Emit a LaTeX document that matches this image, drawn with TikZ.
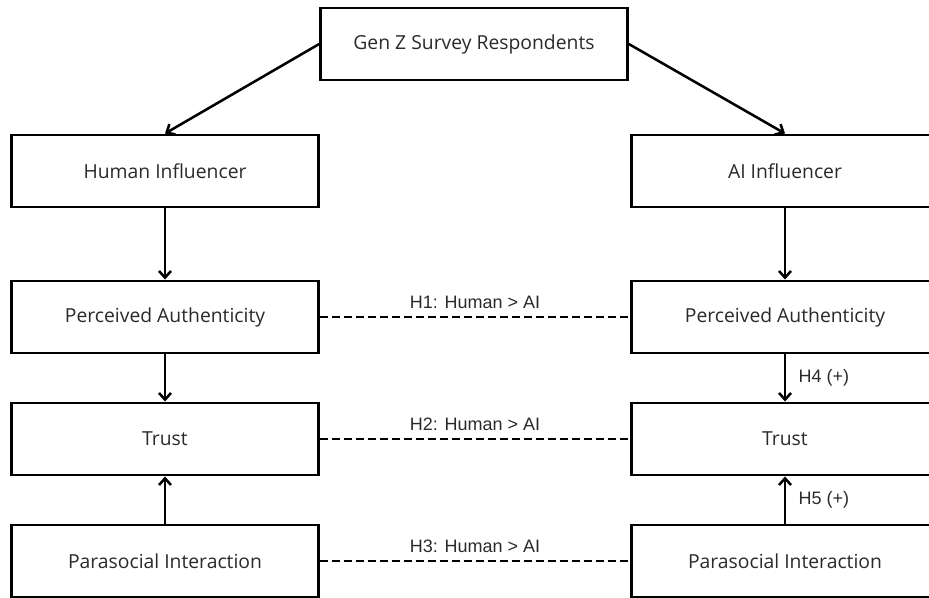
\documentclass[tikz,border=0pt]{standalone}
\usepackage{fontspec}
\setmainfont{Open Sans}
\newfontfamily\labelfont{Liberation Sans}
\usepackage{xcolor}
\usepackage{tikz}
\usetikzlibrary{arrows.meta}
\definecolor{inkgray}{HTML}{2A2A2A}

\tikzset{
    box/.style={draw=black, line width=2.2pt, fill=white, minimum width=230pt, minimum height=54pt,
        inner sep=0pt, text=inkgray, font=\fontsize{14.5}{17}\selectfont},
    link/.style={line width=1.9pt, -{Straight Barb[length=5pt,width=9pt]}},
    hyp/.style={line width=1.9pt, dashed, dash pattern=on 6pt off 3pt},
    hlabel/.style={text=inkgray, font=\labelfont\fontsize{13.5}{16}\selectfont}
}

\begin{document}
\begin{tikzpicture}[x=0.75pt, y=-0.75pt]
        \useasboundingbox (0,0) rectangle (929,598);
        % Muestra (arriba)
        \node[box] (gen) at (474,44) {Gen Z Survey Respondents};
        % Columna humana
        \node[box] (hum) at (165,171) {Human Influencer};
        \node[box] (hpa) at (165,317) {Perceived Authenticity};
        \node[box] (htr) at (165,439) {Trust};
        \node[box] (hpi) at (165,561) {Parasocial Interaction};
        % Columna IA
        \node[box] (ai)  at (785,171) {AI Influencer};
        \node[box] (apa) at (785,317) {Perceived Authenticity};
        \node[box] (atr) at (785,439) {Trust};
        \node[box] (api) at (785,561) {Parasocial Interaction};

        % Flechas
        \draw[link] (gen.west) -- (hum.north);
        \draw[link] (gen.east) -- (ai.north);
        \draw[link] (hum) -- (hpa);
        \draw[link] (hpa) -- (htr);
        \draw[link] (hpi) -- (htr);
        \draw[link] (ai) -- (apa);
        \draw[link] (apa) -- node[hlabel, right=6pt] {H4 (+)} (atr);
        \draw[link] (api) -- node[hlabel, right=6pt] {H5 (+)} (atr);

        % Comparaciones
        \draw[hyp] (hpa) -- node[hlabel, above=2pt] {H1: Human > AI} (apa);
        \draw[hyp] (htr) -- node[hlabel, above=2pt] {H2: Human > AI} (atr);
        \draw[hyp] (hpi) -- node[hlabel, above=2pt] {H3: Human > AI} (api);
    \end{tikzpicture}
\end{document}
